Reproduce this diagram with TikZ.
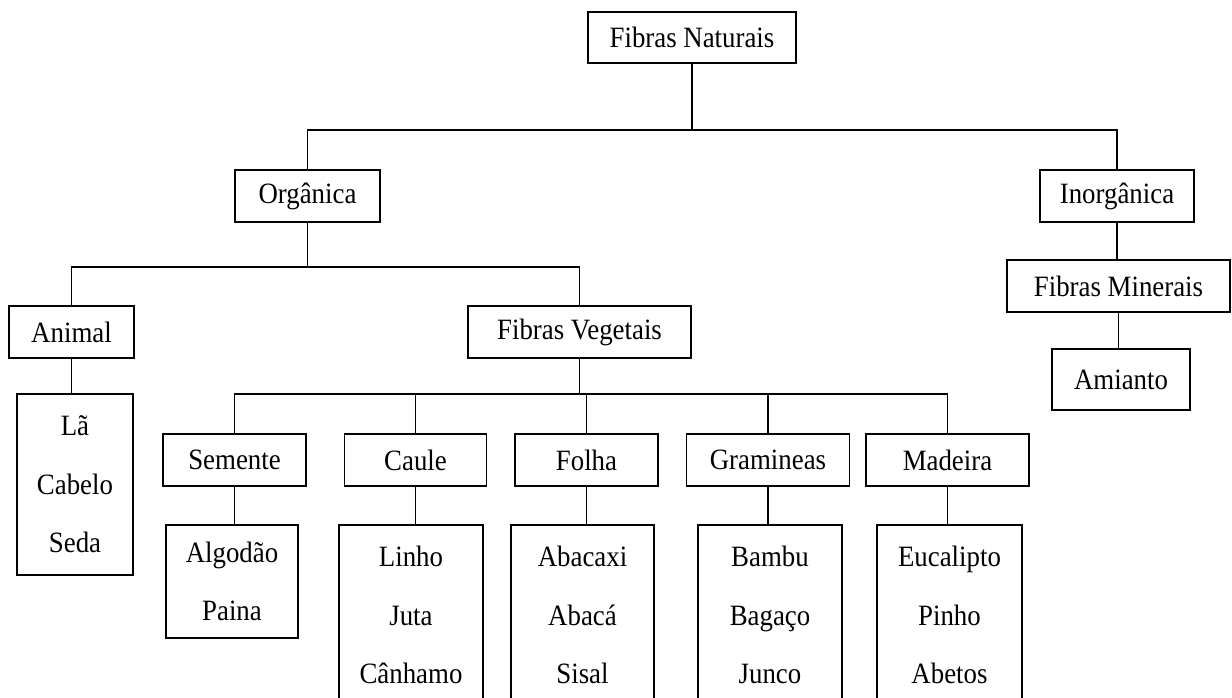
\documentclass[tikz,border=0pt]{standalone}
\usepackage{fontspec}
\setmainfont{Liberation Serif}[FakeStretch=0.91]

\tikzstyle{caixa}=[draw, rectangle, line width=1.4pt, inner sep=0pt, align=center, font=\fontsize{29.5}{58.5}\selectfont]
\tikzstyle{lista}=[caixa, minimum height=180pt]

\begin{document}
\begin{tikzpicture}[x=1pt, y=-1pt, line width=1.4pt]
\clip (0,0) rectangle (1232,698);

\node[caixa, minimum width=208pt, minimum height=51pt] (nat) at (692,37.5) {Fibras Naturais};
\node[caixa, minimum width=145pt, minimum height=52pt] (org) at (307.5,196) {Orgânica};
\node[caixa, minimum width=154pt, minimum height=52pt] (inorg) at (1117,196) {Inorgânica};
\node[caixa, minimum width=125pt, minimum height=52pt] (ani) at (71.5,332) {Animal};
\node[caixa, minimum width=223pt, minimum height=52pt] (veg) at (579.5,332) {Fibras Vegetais};
\node[caixa, minimum width=223pt, minimum height=52pt] (min) at (1118.5,286) {Fibras Minerais};
\node[caixa, minimum width=138pt, minimum height=61pt] (ami) at (1121,379.5) {Amianto};
\node[caixa, minimum width=116pt, minimum height=181pt] (la) at (75,484.5) {Lã\\Cabelo\\Seda};

\node[caixa, minimum width=143pt, minimum height=52pt] (sem) at (234.5,460) {Semente};
\node[caixa, minimum width=142pt, minimum height=52pt] (cau) at (415.5,460) {Caule};
\node[caixa, minimum width=143pt, minimum height=52pt] (fol) at (586.5,460) {Folha};
\node[caixa, minimum width=163pt, minimum height=52pt] (gra) at (768,460) {Gramineas};
\node[caixa, minimum width=163pt, minimum height=52pt] (mad) at (947.5,460) {Madeira};

\node[caixa, minimum width=132pt, minimum height=113pt] (alg) at (232,581.5) {Algodão\\Paina};
\node[lista, minimum width=144pt] (lin) at (411,615) {Linho\\Juta\\Cânhamo};
\node[lista, minimum width=143pt] (aba) at (582.5,615) {Abacaxi\\Abacá\\Sisal};
\node[lista, minimum width=144pt] (bam) at (770,615) {Bambu\\Bagaço\\Junco};
\node[lista, minimum width=145pt] (euc) at (949.5,615) {Eucalipto\\Pinho\\Abetos};

\coordinate (b1) at (692,130);
\coordinate (b2) at (307.5,267);
\coordinate (b3) at (579.5,394);

\draw (nat.south) -- (b1);
\draw (org.north) |- (b1) -| (inorg.north);
\draw (inorg.south) -- (inorg.south |- min.north);
\draw (min.south) -- (min.south |- ami.north);

\draw (org.south) -- (b2);
\draw (ani.north) |- (b2) -| (veg.north);
\draw (ani.south) -- (ani.south |- la.north);

\draw (veg.south) -- (b3);
\draw (sem.north) |- (b3) -| (mad.north);
\foreach \n in {cau,fol,gra}
  \draw (\n.north) -- (\n.north |- b3);

\foreach \a/\b in {sem/alg,cau/lin,fol/aba,gra/bam,mad/euc}
  \draw (\a.south) -- (\a.south |- \b.north);
\end{tikzpicture}
\end{document}
